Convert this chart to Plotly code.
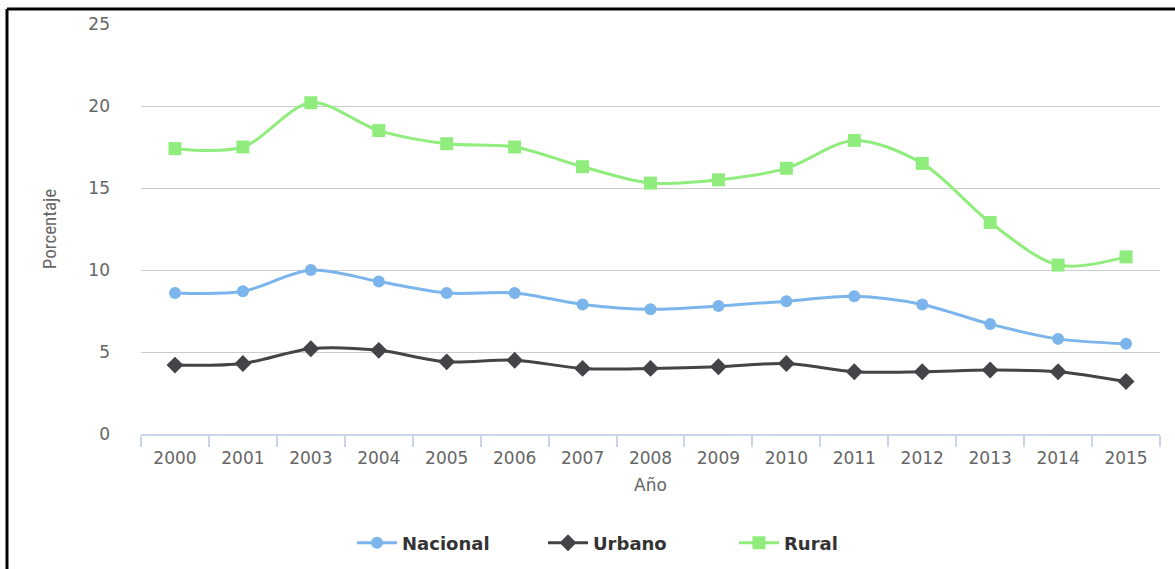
import plotly.graph_objects as go

# Años y porcentajes por área
anios = ["2000", "2001", "2003", "2004", "2005", "2006", "2007", "2008",
         "2009", "2010", "2011", "2012", "2013", "2014", "2015"]
nacional = [8.6, 8.7, 10.0, 9.3, 8.6, 8.6, 7.9, 7.6, 7.8, 8.1, 8.4, 7.9, 6.7, 5.8, 5.5]
urbano = [4.2, 4.3, 5.2, 5.1, 4.4, 4.5, 4.0, 4.0, 4.1, 4.3, 3.8, 3.8, 3.9, 3.8, 3.2]
rural = [17.4, 17.5, 20.2, 18.5, 17.7, 17.5, 16.3, 15.3, 15.5, 16.2, 17.9, 16.5, 12.9, 10.3, 10.8]
y_ticks = [0, 5, 10, 15, 20, 25]

W, H = 1175, 569
L, R, T, B = 141, 15, 24, 135
pw, ph = W - L - R, H - T - B

series = [
    ("Nacional", nacional, "#7cb5ec", "circle", 12),
    ("Urbano", urbano, "#434348", "diamond", 13),
    ("Rural", rural, "#90ed7d", "square", 13),
]

fig = go.Figure()
for name, vals, color, symbol, size in series:
    fig.add_trace(go.Scatter(
        x=anios, y=vals, name=name, mode="lines+markers",
        line=dict(color=color, width=3, shape="spline", smoothing=0.9),
        marker=dict(symbol=symbol, size=size, color=color),
    ))

# Marco negro superior e izquierdo de la imagen
bx = (7 - L) / pw
by = (H - B - 9) / ph
fig.add_shape(type="line", xref="paper", yref="paper",
              x0=bx, x1=(W + 10 - L) / pw, y0=by, y1=by,
              line=dict(color="#000000", width=3))
fig.add_shape(type="line", xref="paper", yref="paper",
              x0=bx, x1=bx, y0=by, y1=-(B + 10) / ph,
              line=dict(color="#000000", width=3))

fig.update_layout(
    width=W, height=H,
    margin=dict(l=L, r=R, t=T, b=B, autoexpand=False),
    paper_bgcolor="white", plot_bgcolor="white",
    font=dict(family="DejaVu Sans", color="#666666"),
    showlegend=True,
    legend=dict(orientation="h", x=(352 - L) / pw, xanchor="left",
                y=-(543 - (H - B)) / ph, yanchor="middle",
                font=dict(family="DejaVu Sans", size=18, color="#333333", weight="bold"),
                itemwidth=40, entrywidth=136, entrywidthmode="pixels", tracegroupgap=0),
    xaxis=dict(
        type="category", range=[-0.5, 14.5],
        showgrid=False, showline=True, linecolor="#ccd6eb", linewidth=1.5,
        ticks="outside", tickson="boundaries", ticklen=11, tickcolor="#ccd6eb", tickwidth=1.5,
        ticklabelstandoff=8,
        tickfont=dict(size=17, color="#666666"),
        title=dict(text="Año", font=dict(size=17, color="#666666"), standoff=12),
    ),
    yaxis=dict(
        range=[0, 25], tickvals=y_ticks, showgrid=True, gridcolor="#cccccc", gridwidth=1,
        zeroline=False, showline=False, ticks="", ticklabelstandoff=30,
        tickfont=dict(size=17, color="#666666"),
        title=dict(text="Porcentaje",
                   font=dict(family="Liberation Sans Narrow, Roboto Condensed, DejaVu Sans Condensed",
                             size=19, color="#666666"),
                   standoff=26),
    ),
)

fig.write_html("out.html")
